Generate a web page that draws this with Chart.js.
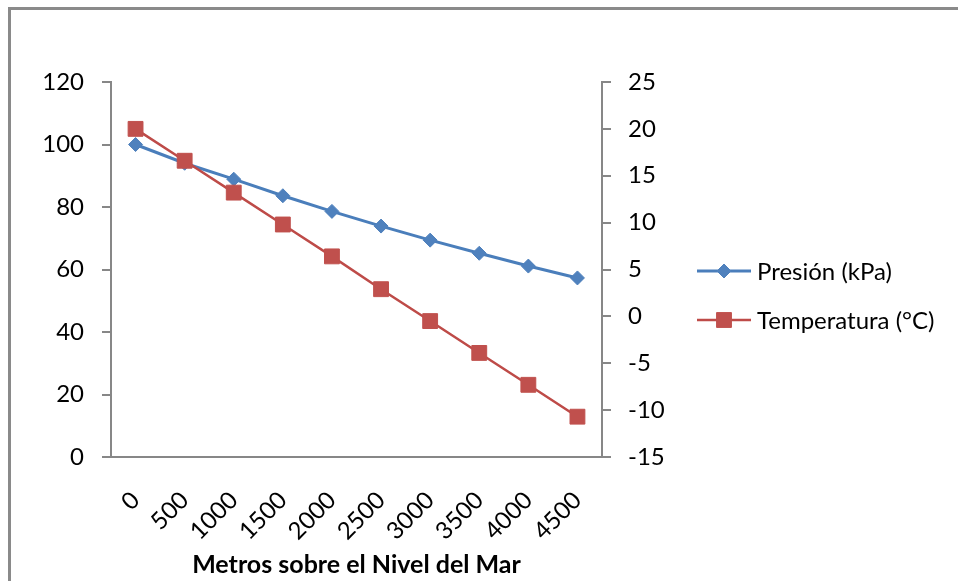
<!DOCTYPE html>
<html>
<head>
<meta charset="utf-8">
<script src="https://cdn.jsdelivr.net/npm/chart.js@4/dist/chart.umd.min.js"></script>
<style>
  html, body { margin: 0; padding: 0; background: #fff; }
  #wrap { width: 958px; height: 581px; position: relative; }
</style>
</head>
<body>
<div id="wrap"><canvas id="c" width="958" height="581"></canvas></div>
<script>
// Altitude categories (m) and the two measured series
const altitudes = ['0', '500', '1000', '1500', '2000', '2500', '3000', '3500', '4000', '4500'];
const presion = [100, 94.0, 88.9, 83.6, 78.6, 73.9, 69.4, 65.2, 61.1, 57.3];
const temperatura = [20, 16.6, 13.2, 9.8, 6.4, 2.9, -0.5, -3.9, -7.3, -10.7];

const seriesNames = ['Presión (kPa)', 'Temperatura (°C)'];
const xTitle = 'Metros sobre el Nivel del Mar';

const FONT = 'Lato, "Open Sans", sans-serif';
const AXIS_GRAY = '#878787';

const BLUE_LINE = '#4A7EBB', BLUE_FILL = '#4F81BD';
const RED_LINE = '#BE4B48', RED_FILL = '#C0504D';

// White page, frame line and a line+marker legend on the right
const decor = {
  id: 'decor',
  beforeDraw(chart) {
    const ctx = chart.ctx;
    ctx.save();
    ctx.fillStyle = '#fff';
    ctx.fillRect(0, 0, chart.width, chart.height);
    ctx.strokeStyle = '#8a8a8a';
    ctx.lineWidth = 3;
    ctx.beginPath();
    ctx.moveTo(9.5, chart.height + 10);
    ctx.lineTo(9.5, 8.5);
    ctx.lineTo(chart.width + 10, 8.5);
    ctx.stroke();
    ctx.restore();
  },
  afterDraw(chart) {
    const ctx = chart.ctx;
    const items = [
      { name: seriesNames[0], line: BLUE_LINE, fill: BLUE_FILL, style: 'rectRot', r: 7, w: 3, y: 271 },
      { name: seriesNames[1], line: RED_LINE, fill: RED_FILL, style: 'rect', r: 10.5, w: 2.5, y: 320 }
    ];
    ctx.save();
    items.forEach(it => {
      ctx.strokeStyle = it.line;
      ctx.lineWidth = it.w;
      ctx.beginPath();
      ctx.moveTo(697, it.y);
      ctx.lineTo(751, it.y);
      ctx.stroke();
      ctx.fillStyle = it.fill;
      ctx.strokeStyle = it.fill;
      ctx.lineWidth = 1;
      Chart.helpers.drawPoint(ctx, { pointStyle: it.style, radius: it.r, borderWidth: 1, rotation: 0 }, 724, it.y);
      ctx.fillStyle = '#000';
      ctx.font = '24px ' + FONT;
      ctx.textAlign = 'left';
      ctx.textBaseline = 'middle';
      ctx.fillText(it.name, 757, it.y + 1);
    });
    ctx.restore();
  }
};

new Chart(document.getElementById('c'), {
  type: 'line',
  data: {
    labels: altitudes,
    datasets: [
      {
        label: seriesNames[0],
        data: presion,
        yAxisID: 'y',
        borderColor: BLUE_LINE,
        borderWidth: 3,
        backgroundColor: BLUE_FILL,
        pointStyle: 'rectRot',
        pointRadius: 7,
        pointBorderWidth: 1,
        pointBorderColor: BLUE_FILL,
        pointBackgroundColor: BLUE_FILL,
        tension: 0,
        order: 1
      },
      {
        label: seriesNames[1],
        data: temperatura,
        yAxisID: 'y1',
        borderColor: RED_LINE,
        borderWidth: 2.5,
        backgroundColor: RED_FILL,
        pointStyle: 'rect',
        pointRadius: 10.5,
        pointBorderWidth: 1,
        pointBorderColor: RED_FILL,
        pointBackgroundColor: RED_FILL,
        tension: 0,
        order: 0
      }
    ]
  },
  options: {
    responsive: false,
    animation: false,
    devicePixelRatio: 1,
    layout: { padding: { top: 82, left: 0, right: 0, bottom: 0 } },
    plugins: {
      legend: { display: false },
      tooltip: { enabled: false },
      title: { display: false }
    },
    scales: {
      x: {
        type: 'category',
        offset: true,
        afterFit(s) { s.height = 124; },
        grid: { display: true, drawOnChartArea: false, drawTicks: false },
        border: { display: true, color: AXIS_GRAY, width: 2 },
        ticks: {
          autoSkip: false,
          minRotation: 45,
          maxRotation: 45,
          padding: 29,
          color: '#000',
          font: { family: FONT, size: 24 }
        },
        title: {
          display: true,
          text: xTitle,
          color: '#000',
          font: { family: FONT, size: 25, weight: 'bold' },
          padding: { top: 0, bottom: 1 }
        }
      },
      y: {
        position: 'left',
        min: 0,
        max: 120,
        afterFit(s) { s.width = 111; },
        grid: { drawOnChartArea: false, drawTicks: true, tickLength: 9, color: AXIS_GRAY, lineWidth: 2 },
        border: { display: true, color: AXIS_GRAY, width: 2 },
        ticks: {
          stepSize: 20,
          padding: 18,
          color: '#000',
          font: { family: FONT, size: 24 }
        }
      },
      y1: {
        position: 'right',
        min: -15,
        max: 25,
        afterFit(s) { s.width = 356; },
        grid: { drawOnChartArea: false, drawTicks: true, tickLength: 9, color: AXIS_GRAY, lineWidth: 2 },
        border: { display: true, color: AXIS_GRAY, width: 2 },
        ticks: {
          stepSize: 5,
          padding: 17,
          color: '#000',
          font: { family: FONT, size: 24 }
        }
      }
    }
  },
  plugins: [decor]
});
</script>
</body>
</html>
